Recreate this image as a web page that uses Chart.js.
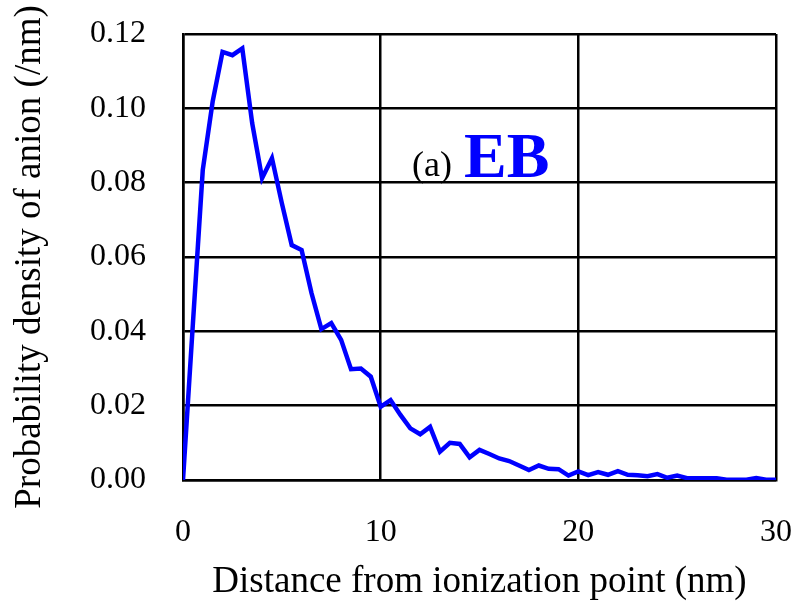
<!DOCTYPE html>
<html>
<head>
<meta charset="utf-8">
<script src="https://cdn.jsdelivr.net/npm/chart.js@4/dist/chart.umd.min.js"></script>
<style>
  html, body { margin: 0; padding: 0; background: #fff; }
  #wrap { width: 794px; height: 606px; }
</style>
</head>
<body>
<div id="wrap"><canvas id="densityChart" width="794" height="606"></canvas></div>
<script>
// distance from ionization point (nm)
const distances = [
  0, 0.5, 1, 1.5, 2, 2.5, 3, 3.5, 4, 4.5,
  5, 5.5, 6, 6.5, 7, 7.5, 8, 8.5, 9, 9.5,
  10, 10.5, 11, 11.5, 12, 12.5, 13, 13.5, 14, 14.5,
  15, 15.5, 16, 16.5, 17, 17.5, 18, 18.5, 19, 19.5,
  20, 20.5, 21, 21.5, 22, 22.5, 23, 23.5, 24, 24.5,
  25, 25.5, 26, 26.5, 27, 27.5, 28, 28.5, 29, 29.5, 30
];
// probability density of anion (/nm), EB
const density = [
  0, 0.042, 0.0834, 0.1018, 0.1152, 0.1143, 0.1161, 0.096, 0.0812, 0.0866,
  0.0745, 0.0632, 0.0619, 0.0503, 0.0406, 0.0422, 0.0377, 0.0298, 0.0300, 0.0278,
  0.0197, 0.0215, 0.0175, 0.0139, 0.0123, 0.0143, 0.0076, 0.0100, 0.0097, 0.0061,
  0.0081, 0.0070, 0.0058, 0.0051, 0.0039, 0.0027, 0.0039, 0.0030, 0.0029, 0.0012,
  0.0023, 0.0013, 0.0021, 0.0014, 0.0024, 0.0014, 0.0013, 0.0010, 0.0016, 0.0006,
  0.0012, 0.0005, 0.0005, 0.0005, 0.0005, 0.0001, 0.0001, 0.0001, 0.0005, 0.0001, 0.0001
];
const xTicks = [0, 10, 20, 30];
const yTicks = [0, 0.02, 0.04, 0.06, 0.08, 0.10, 0.12];

const serif = "'Liberation Serif', 'Times New Roman', serif";

// keep the plot box fixed: no extra room for overhanging tick labels
function noPadding(s) {
  s.paddingLeft = 0;
  s.paddingRight = 0;
  s.paddingTop = 0;
  s.paddingBottom = 0;
}

// "(a) EB" label inside the plot
const panelLabel = {
  id: 'panelLabel',
  afterDraw(chart) {
    const c = chart.ctx;
    c.save();
    c.textBaseline = 'alphabetic';
    c.fillStyle = '#000';
    c.font = '36px ' + serif;
    c.fillText('(a)', 412, 176);
    c.fillStyle = '#0000ff';
    c.font = 'bold 64px ' + serif;
    c.fillText('EB', 464, 177);
    c.restore();
  }
};

new Chart(document.getElementById('densityChart'), {
  type: 'line',
  data: {
    datasets: [{
      data: distances.map((d, i) => ({ x: d, y: density[i] })),
      borderColor: '#0000ff',
      borderWidth: 4.5,
      pointRadius: 0,
      tension: 0,
      fill: false
    }]
  },
  options: {
    responsive: false,
    animation: false,
    layout: { padding: { top: 34, right: 18, left: 0, bottom: 0 } },
    plugins: { legend: { display: false }, tooltip: { enabled: false } },
    scales: {
      x: {
        type: 'linear',
        min: 0, max: 30,
        afterBuildTicks: s => { s.ticks = xTicks.map(v => ({ value: v })); },
        afterFit: s => { s.height = 126; noPadding(s); },
        grid: { color: '#000', lineWidth: 2.5, drawTicks: false },
        border: { color: '#000', width: 2.5 },
        ticks: { padding: 33, color: '#000', font: { family: serif, size: 32 } },
        title: {
          display: true,
          text: 'Distance from ionization point (nm)',
          color: '#000',
          font: { family: serif, size: 37 },
          padding: { top: 0, bottom: 2 }
        }
      },
      y: {
        min: 0, max: 0.12,
        afterBuildTicks: s => { s.ticks = yTicks.map(v => ({ value: v })); },
        afterFit: s => { s.width = 183; noPadding(s); },
        grid: { color: '#000', lineWidth: 2.5, drawTicks: false },
        border: { color: '#000', width: 2.5 },
        ticks: {
          padding: 37, color: '#000', font: { family: serif, size: 32 },
          callback: v => v.toFixed(2)
        },
        title: {
          display: true,
          text: 'Probability density of anion (/nm)',
          color: '#000',
          font: { family: serif, size: 37 },
          padding: { top: 8, bottom: 0 }
        }
      }
    }
  },
  plugins: [panelLabel]
});
</script>
</body>
</html>
